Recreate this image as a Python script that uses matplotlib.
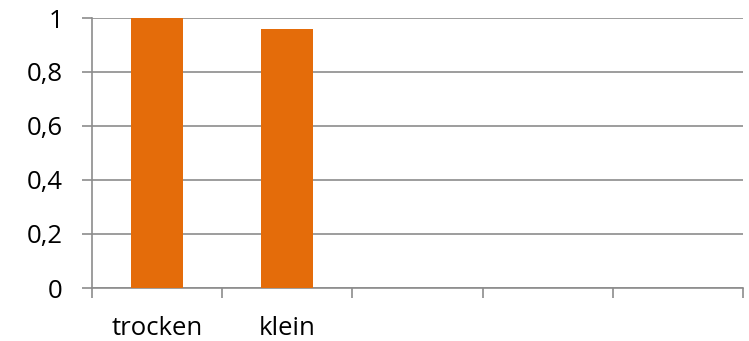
import numpy as np
import matplotlib.pyplot as plt

categories = ["trocken", "klein", "", "", ""]
values = [1.0, 0.96]
yticks = [0, 0.2, 0.4, 0.6, 0.8, 1.0]
ylabels = ["0", "0,2", "0,4", "0,6", "0,8", "1"]

plt.rcParams['font.family'] = ['Open Sans', 'DejaVu Sans']
grid_col = '#8c8c8c'

fig = plt.figure(figsize=(7.49, 3.41), dpi=100)
ax = fig.add_axes([92/749, 1-288/341, (743-92)/749, (288-18)/341])

x = np.arange(len(values))
ax.bar(x, values, width=0.4, color='#E46C0A', zorder=3)

ax.set_xlim(-0.5, len(categories) - 0.5)
ax.set_ylim(0, 1)

# gridlines
for y in yticks:
    ax.axhline(y, color=grid_col, lw=1.2, zorder=1)

ax.set_yticks(yticks)
ax.set_yticklabels(ylabels)
ax.set_xticks(np.arange(len(categories)))
ax.set_xticklabels(categories)
ax.set_xticks(np.arange(len(categories) + 1) - 0.5, minor=True)

ax.tick_params(axis='y', length=7, width=1.2, color=grid_col, pad=14, labelsize=18.5)
ax.tick_params(axis='x', which='major', length=0, pad=20, labelsize=18.5)
ax.tick_params(axis='x', which='minor', length=7, width=1.2, color=grid_col)

for s in ['top', 'right']:
    ax.spines[s].set_visible(False)
for s in ['left', 'bottom']:
    ax.spines[s].set_color(grid_col)
    ax.spines[s].set_linewidth(1.2)

plt.savefig('out.png', dpi=100)
